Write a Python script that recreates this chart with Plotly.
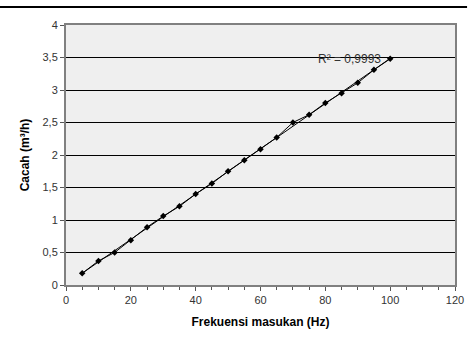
import numpy as np
import plotly.graph_objects as go

freq = [5, 10, 15, 20, 25, 30, 35, 40, 45, 50, 55, 60, 65, 70, 75, 80, 85, 90, 95, 100]
cacah = [0.18, 0.37, 0.50, 0.69, 0.89, 1.06, 1.21, 1.40, 1.56, 1.75, 1.92, 2.09, 2.27, 2.50, 2.62, 2.80, 2.95, 3.11, 3.31, 3.48]
y_ticks = [0, 0.5, 1, 1.5, 2, 2.5, 3, 3.5, 4]
y_labels = ["0", "0,5", "1", "1,5", "2", "2,5", "3", "3,5", "4"]
x_ticks = [0, 20, 40, 60, 80, 100, 120]

slope, intercept = np.polyfit(freq, cacah, 1)
fit_x = [freq[0], freq[-1]]
fit_y = [slope * v + intercept for v in fit_x]

font_family = "Liberation Sans Narrow, Arial Narrow, Liberation Sans, Arial"

fig = go.Figure()
fig.add_trace(go.Scatter(x=fit_x, y=fit_y, mode="lines",
                         line=dict(color="black", width=1), showlegend=False))
fig.add_trace(go.Scatter(x=freq, y=cacah, mode="lines+markers",
                         line=dict(color="black", width=1),
                         marker=dict(symbol="diamond", size=5, color="black"),
                         showlegend=False))

fig.add_annotation(x=77, y=3.47, text="R² = 0,9993", showarrow=False,
                   xanchor="left", yanchor="middle",
                   font=dict(family="Liberation Sans, Arial", size=12, color="#333333"))

fig.add_shape(type="line", xref="paper", yref="paper",
              x0=-0.17, x1=1.031, y0=1.069, y1=1.069,
              line=dict(color="black", width=2))

fig.update_layout(
    width=469, height=341,
    margin=dict(l=66, r=14, t=25, b=56),
    paper_bgcolor="white",
    plot_bgcolor="#efefef",
    font=dict(family="Liberation Sans, Arial", size=11, color="#222222"),
    xaxis=dict(
        range=[0, 120], tickvals=x_ticks, ticks="outside", ticklen=4,
        tickcolor="#555555", showgrid=False, zeroline=False, automargin=False,
        showline=True, linecolor="#808080", linewidth=2, mirror=True,
        minor=dict(dtick=5, ticks="outside", ticklen=3, tickcolor="#555555", showgrid=False),
        title=dict(text="<b>Frekuensi masukan (Hz)</b>", standoff=12,
                   font=dict(family=font_family, size=12, color="black")),
        tickfont=dict(size=11, color="#333333"),
    ),
    yaxis=dict(
        range=[0, 4], tickvals=y_ticks, ticktext=y_labels, ticks="outside", ticklen=4,
        tickcolor="#555555", showgrid=True, gridcolor="black", gridwidth=1,
        zeroline=False, automargin=False,
        showline=True, linecolor="#808080", linewidth=2, mirror=True,
        title=dict(text="<b>Cacah (m³/h)</b>", standoff=10,
                   font=dict(family=font_family, size=12, color="black")),
        tickfont=dict(size=11, color="#333333"),
    ),
)

fig.write_html("out.html", config={"displayModeBar": False},
               post_script="document.body.style.margin='0px';")
